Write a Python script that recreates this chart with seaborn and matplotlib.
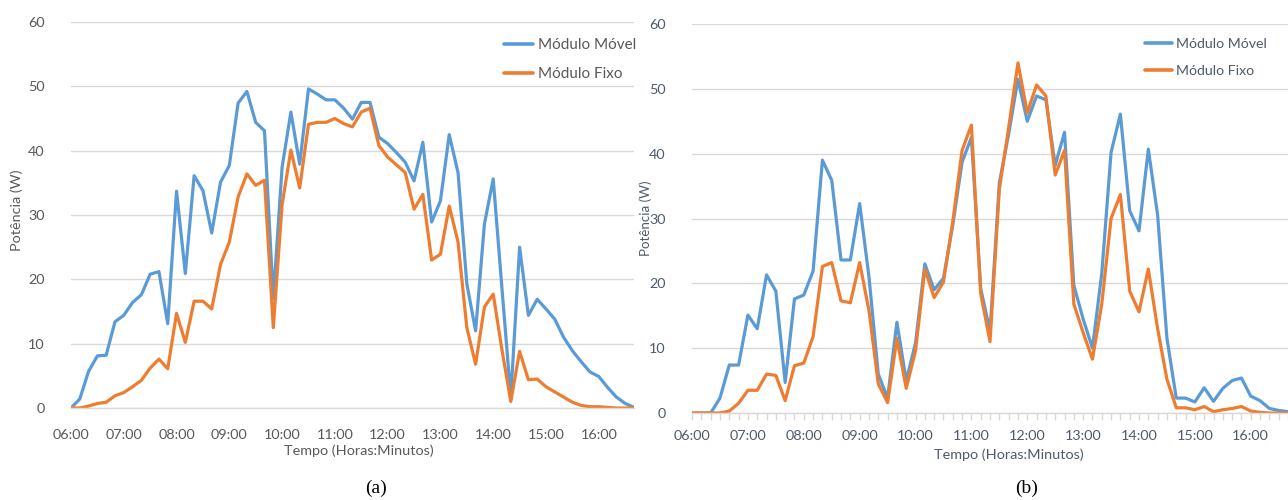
import matplotlib
matplotlib.use("Agg")
import matplotlib.pyplot as plt
from matplotlib.ticker import MultipleLocator
import numpy as np
import pandas as pd
import seaborn as sns

sns.set_theme(style="white")
plt.rcParams['font.family'] = ['Lato', 'DejaVu Sans']

# 10 minute samples from 06:00 to 16:40
minutes = list(range(0, 650, 10))
hour_labels = ["06:00", "07:00", "08:00", "09:00", "10:00", "11:00",
               "12:00", "13:00", "14:00", "15:00", "16:00"]

movel_a = [0, 1.4, 5.7, 8.1, 8.2, 13.4, 14.4, 16.4, 17.6, 20.8, 21.2, 13.1,
           33.7, 20.9, 36.1, 33.8, 27.2, 35.1,
           37.7, 47.4, 49.2, 44.4, 43.1, 17.0,
           37.4, 46.0, 37.9, 49.6, 48.8, 47.9,
           47.9, 46.6, 44.9, 47.5, 47.5, 42.1,
           41.1, 39.7, 38.2, 35.3, 41.3, 28.9,
           32.2, 42.5, 36.6, 19.3, 12.0, 28.6,
           35.6, 18.5, 1.7, 25.0, 14.4, 16.9,
           15.4, 13.8, 11.0, 8.9, 7.2, 5.6,
           4.9, 3.2, 1.7, 0.7, 0.1]
fixo_a = [0, 0, 0.3, 0.7, 0.9, 1.9, 2.4, 3.3, 4.3, 6.2, 7.6, 6.1,
          14.7, 10.2, 16.6, 16.6, 15.4, 22.3,
          25.8, 32.8, 36.4, 34.6, 35.4, 12.5,
          31.6, 40.1, 34.2, 44.1, 44.4, 44.4,
          45.0, 44.2, 43.7, 46.0, 46.6, 40.8,
          39.0, 37.8, 36.6, 30.9, 33.2, 23.0,
          23.9, 31.4, 25.8, 12.5, 6.8, 15.7,
          17.7, 9.0, 1.0, 8.8, 4.4, 4.5,
          3.3, 2.5, 1.7, 0.9, 0.4, 0.2,
          0.2, 0.1, 0, 0, 0]

movel_b = [0, 0, 0, 2.3, 7.4, 7.4,
           15.1, 13.0, 21.3, 18.8, 4.7, 17.6,
           18.2, 21.9, 39.0, 35.9, 23.6, 23.6,
           32.3, 21.0, 6.0, 2.3, 14.0, 5.0,
           10.8, 23.0, 19.0, 20.8, 29.0, 38.7,
           42.5, 19.2, 12.6, 35.5, 43.0, 51.5,
           45.0, 48.9, 48.3, 38.2, 43.3, 19.7,
           14.5, 10.0, 21.5, 40.2, 46.1, 31.2,
           28.1, 40.7, 30.5, 11.5, 2.3, 2.3,
           1.7, 3.9, 1.8, 3.8, 5.0, 5.4,
           2.6, 1.9, 0.7, 0.4, 0.2]
fixo_b = [0, 0, 0, 0, 0.3, 1.5,
          3.5, 3.5, 6.0, 5.8, 1.9, 7.3,
          7.7, 11.8, 22.6, 23.2, 17.3, 17.0,
          23.2, 15.8, 4.5, 1.6, 11.5, 3.8,
          9.6, 22.2, 17.8, 20.2, 29.5, 40.5,
          44.4, 18.4, 11.0, 34.5, 44.0, 54.0,
          46.3, 50.6, 48.9, 36.7, 40.5, 16.8,
          12.4, 8.3, 16.8, 30.0, 33.7, 18.8,
          15.6, 22.2, 13.0, 5.2, 0.8, 0.8,
          0.5, 1.0, 0.2, 0.5, 0.7, 1.0,
          0.3, 0.1, 0, 0, 0]

series_names = ["Módulo Móvel", "Módulo Fixo"]
palette = {"Módulo Móvel": "#5B9BD5", "Módulo Fixo": "#ED7D31"}
grid_col = "#D9D9D9"
fs = 10.4


def long_df(movel, fixo):
    d1 = pd.DataFrame({"t": minutes, "p": movel, "serie": series_names[0]})
    d2 = pd.DataFrame({"t": minutes, "p": fixo, "serie": series_names[1]})
    return pd.concat([d1, d2], ignore_index=True)


fig = plt.figure(figsize=(12.88, 5.0), dpi=100)
ax_a = fig.add_axes([0.0551, 0.184, 0.4371, 0.772])
ax_b = fig.add_axes([0.5373, 0.174, 0.4627, 0.778])

# axes, data, text colour, legend anchor, (ylabel x, ylabel y, xlabel x, xlabel y),
# minor ticks, legend size, ylabel size
panels = [
    (ax_a, long_df(movel_a, fixo_a), "#595959", (0.769, 0.958), (-0.085, 0.513, 0.512, -0.094), False, 11, fs),
    (ax_b, long_df(movel_b, fixo_b), "#4E5A6C", (0.760, 0.963), (-0.068, 0.5, 0.532, -0.091), True, 10.2, 9.6),
]

for ax, df, txt_col, leg_pos, lab_pos, minor, leg_fs, ylab_fs in panels:
    sns.lineplot(data=df, x="t", y="p", hue="serie", palette=palette,
                 hue_order=series_names, linewidth=2.3, ax=ax)
    ax.set_xlim(0, 640)
    ax.set_ylim(0, 60)
    ax.yaxis.set_major_locator(MultipleLocator(10))
    ax.set_xticks(range(0, 660, 60))
    ax.set_xticklabels(hour_labels)
    ax.grid(axis="y", color=grid_col, linewidth=1)
    ax.grid(axis="x", visible=False)
    for s in ["left", "top", "right"]:
        ax.spines[s].set_visible(False)
    ax.spines["bottom"].set_color(grid_col)
    ax.spines["bottom"].set_linewidth(1)
    if minor:
        ax.xaxis.set_minor_locator(MultipleLocator(10))
        ax.tick_params(axis="x", which="both", bottom=True, length=5,
                       color=grid_col, width=1, direction="out")
        ax.tick_params(axis="x", which="major", pad=7)
    else:
        ax.tick_params(axis="x", bottom=False, pad=9)
    ax.tick_params(axis="y", left=False, pad=13)
    ax.tick_params(labelsize=fs, labelcolor=txt_col)
    ax.set_ylabel("Potência (W)", fontsize=ylab_fs, color=txt_col)
    ax.set_xlabel("Tempo (Horas:Minutos)", fontsize=fs, color=txt_col)
    ax.yaxis.set_label_coords(lab_pos[0], lab_pos[1])
    ax.xaxis.set_label_coords(lab_pos[2], lab_pos[3])
    leg = ax.legend(loc="upper left", bbox_to_anchor=leg_pos, frameon=False,
                    borderpad=0, borderaxespad=0, handlelength=1.9,
                    handletextpad=0.3, labelspacing=1.0, fontsize=leg_fs)
    for t in leg.get_texts():
        t.set_color(txt_col)
    for h in leg.get_lines():
        h.set_linewidth(2.6)

fig.text(376 / 1288, 1 - 488 / 500, "(a)", ha="center", va="center",
         family=["Liberation Serif", "DejaVu Serif"], fontsize=14, color="black")
fig.text(1027 / 1288, 1 - 488 / 500, "(b)", ha="center", va="center",
         family=["Liberation Serif", "DejaVu Serif"], fontsize=14, color="black")

fig.savefig("out.png", dpi=100)
